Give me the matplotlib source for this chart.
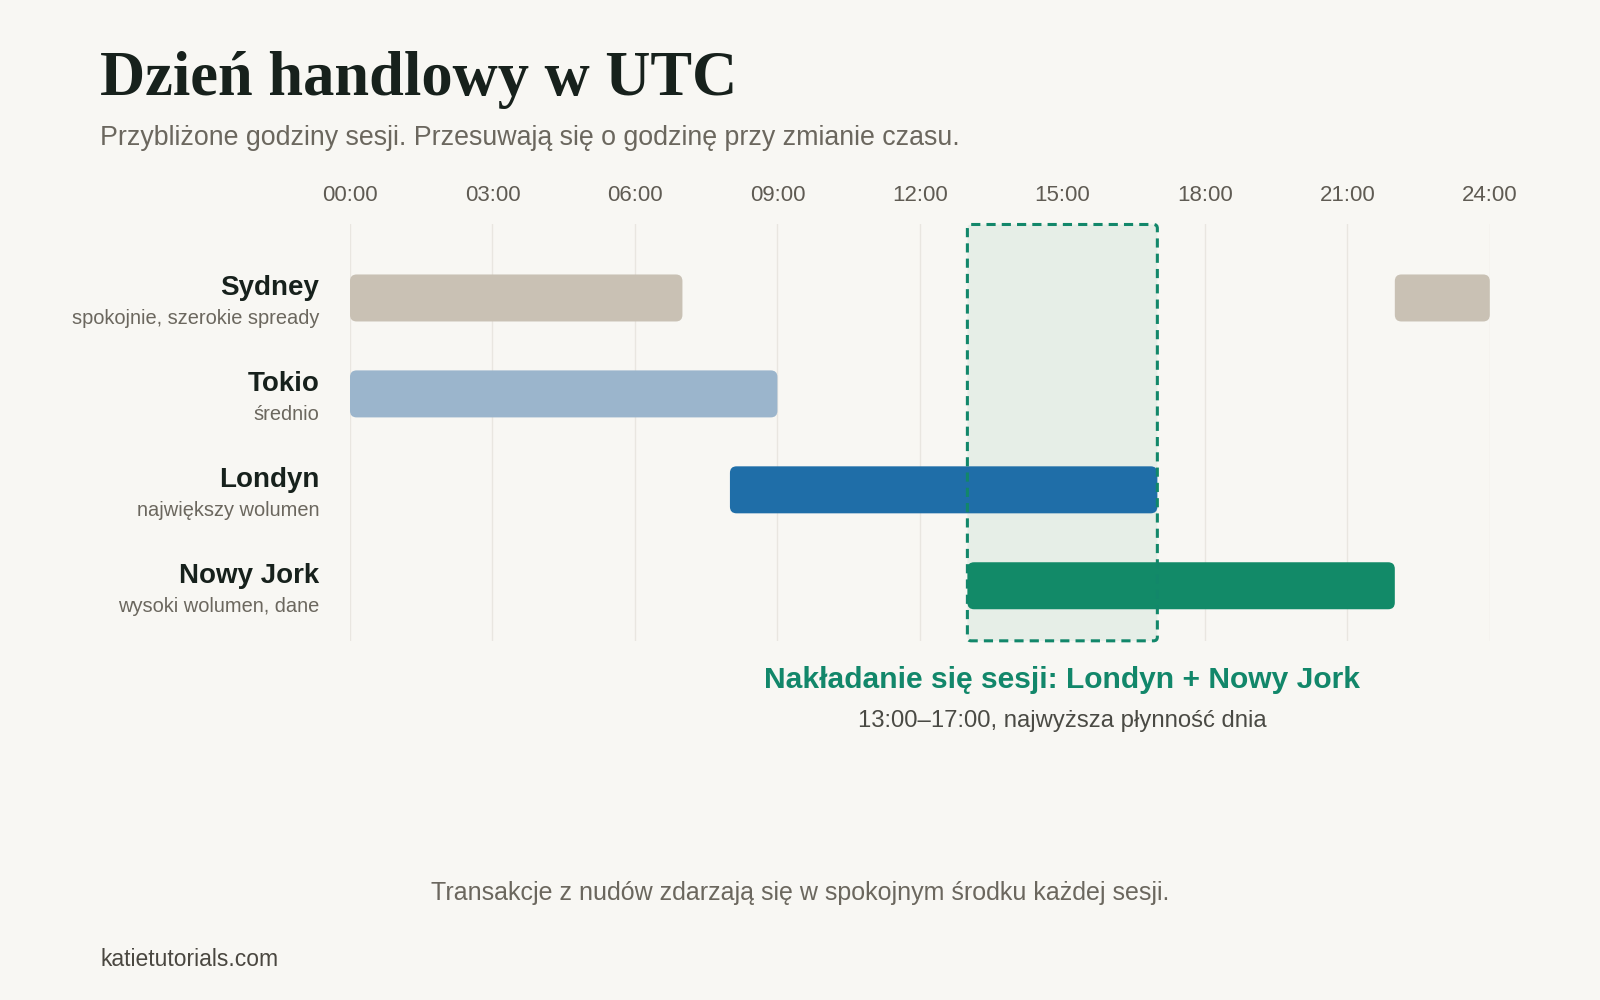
import matplotlib.pyplot as plt
from matplotlib.patches import FancyBboxPatch

# Dane: sesje w godzinach UTC
sesje = ["Sydney", "Tokio", "Londyn", "Nowy Jork"]
opisy = ["spokojnie, szerokie spready", "średnio", "największy wolumen", "wysoki wolumen, dane"]
# kazda sesja moze miec kilka odcinkow (start, koniec)
odcinki = [
    [(0, 7), (22, 24)],
    [(0, 9)],
    [(8, 17)],
    [(13, 22)],
]
kolory = ["#c9c1b4", "#9bb5cc", "#1f6ea8", "#128a68"]
godziny = [0, 3, 6, 9, 12, 15, 18, 21, 24]
etykiety_godzin = ["00:00", "03:00", "06:00", "09:00", "12:00", "15:00", "18:00", "21:00", "24:00"]
nakladanie = (13, 17)

TLO = "#f8f7f3"
ZIELEN = "#12876a"
SZARY = "#6b675e"
CIEMNY = "#17211c"

plt.rcParams["font.family"] = ["Liberation Sans", "DejaVu Sans"]

fig = plt.figure(figsize=(16, 10), dpi=100, facecolor=TLO)
W, H = 1568, 980  # wymiary referencyjne

def fx(x):
    return x / W

def fy(y):
    return 1 - y / H

ax = fig.add_axes([fx(343), fy(628), fx(1460 - 343), (628 - 220) / H])
ax.set_facecolor(TLO)
ax.set_xlim(0, 24)
ax.set_ylim(3.574, -0.766)

# siatka
for g in godziny:
    ax.axvline(g, color="#e9e6e0", lw=1, zorder=0)

# nakladanie sie sesji
x0, x1 = nakladanie
ylo, yhi = ax.get_ylim()
strefa = FancyBboxPatch(
    (x0, yhi), x1 - x0, ylo - yhi,
    boxstyle="round,pad=0,rounding_size=0.08", mutation_aspect=0.495,
    facecolor="#e6eee7", edgecolor="none", zorder=1, clip_on=False,
)
ax.add_patch(strefa)

# paski sesji
wys = 0.49
for i, (segs, kolor) in enumerate(zip(odcinki, kolory)):
    for a, b in segs:
        p = FancyBboxPatch(
            (a, i - wys / 2), b - a, wys,
            boxstyle="round,pad=0,rounding_size=0.14", mutation_aspect=0.495,
            facecolor=kolor, edgecolor="none", zorder=2,
        )
        ax.add_patch(p)

# obramowanie strefy nakladania (nad paskami)
ramka = FancyBboxPatch(
    (x0, yhi), x1 - x0, ylo - yhi,
    boxstyle="round,pad=0,rounding_size=0.08", mutation_aspect=0.495,
    facecolor="none", edgecolor=ZIELEN, lw=2.2, linestyle=(0, (3, 2)),
    zorder=3, clip_on=False,
)
ax.add_patch(ramka)

ax.set_xticks(godziny)
ax.set_xticklabels(etykiety_godzin, fontsize=16, color="#5f5b53")
ax.xaxis.tick_top()
ax.tick_params(axis="x", length=0, pad=13)
ax.set_yticks([])
for s in ax.spines.values():
    s.set_visible(False)

# etykiety wierszy
for i, (nazwa, opis) in enumerate(zip(sesje, opisy)):
    yc = 292 + 94 * i
    fig.text(fx(313), fy(yc - 10), nazwa, ha="right", va="center",
             fontsize=20, fontweight="bold", color=CIEMNY)
    fig.text(fx(313), fy(yc + 20), opis, ha="right", va="center",
             fontsize=14.4, color=SZARY)

# tytul i podtytul
fig.text(fx(98), fy(78), "Dzień handlowy w UTC", ha="left", va="center",
         fontsize=45, fontweight="bold", color=CIEMNY,
         family=["Liberation Serif", "DejaVu Serif"])
fig.text(fx(98), fy(135), "Przybliżone godziny sesji. Przesuwają się o godzinę przy zmianie czasu.",
         ha="left", va="center", fontsize=19.3, color=SZARY)

# opis nakladania
fig.text(fx(1041), fy(666), "Nakładanie się sesji: Londyn + Nowy Jork", ha="center", va="center",
         fontsize=21.6, fontweight="bold", color=ZIELEN)
fig.text(fx(1041), fy(707), "13:00–17:00, najwyższa płynność dnia", ha="center", va="center",
         fontsize=17.2, color="#4a4a44")

# stopka
fig.text(0.5, fy(875), "Transakcje z nudów zdarzają się w spokojnym środku każdej sesji.",
         ha="center", va="center", fontsize=18, color=SZARY)
fig.text(fx(98), fy(940), "katietutorials.com", ha="left", va="center",
         fontsize=16.5, color="#4a4740")

fig.savefig("out.png", dpi=100, facecolor=TLO)
